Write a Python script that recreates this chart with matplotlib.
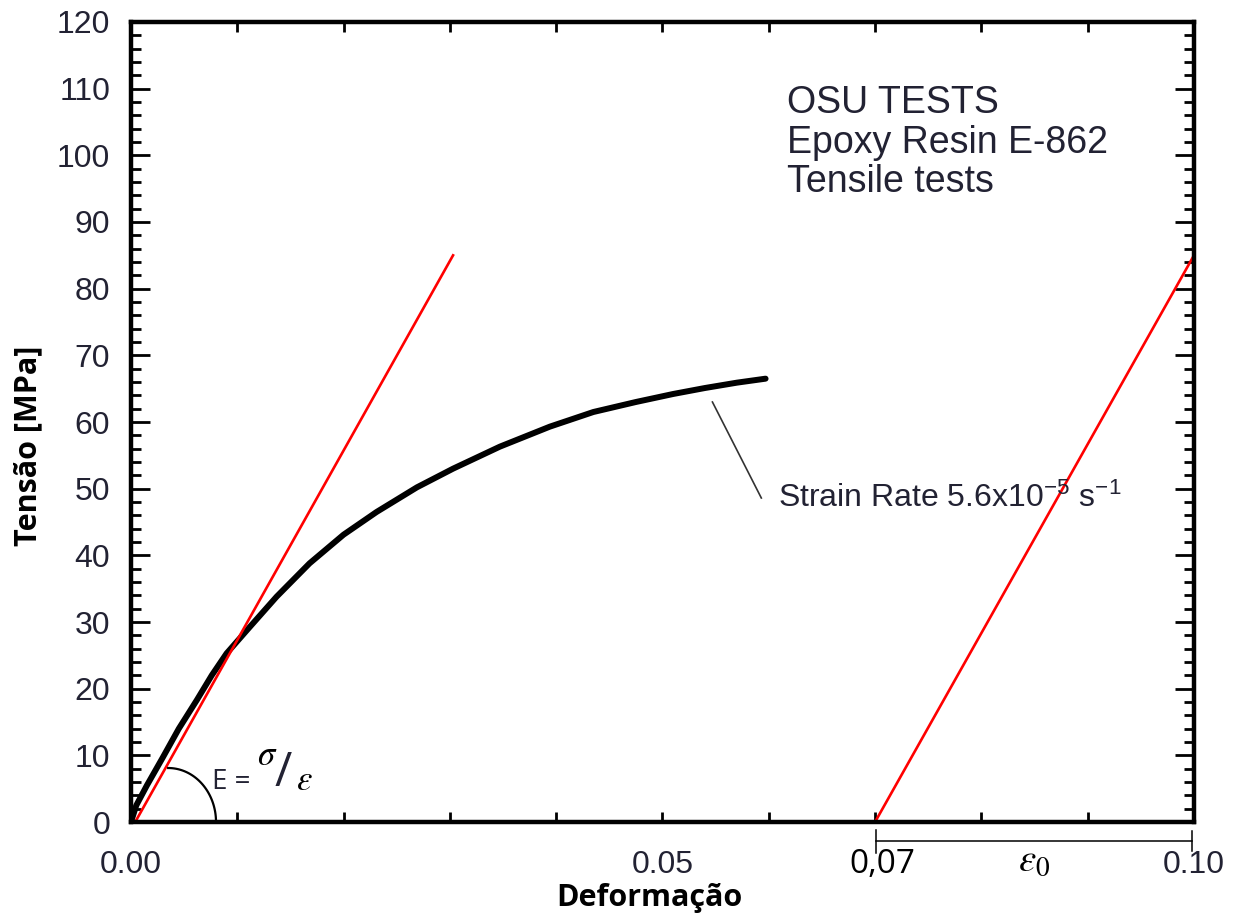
import numpy as np
import matplotlib
matplotlib.use("Agg")
import matplotlib.pyplot as plt
from matplotlib.ticker import FixedLocator, FixedFormatter, MultipleLocator

plt.rcParams['font.family'] = ['Liberation Sans', 'DejaVu Sans']
plt.rcParams['mathtext.fontset'] = 'custom'
plt.rcParams['mathtext.rm'] = 'Liberation Sans'
plt.rcParams['mathtext.it'] = 'Liberation Sans:italic'

# stress-strain curve
strain = [0.0, 0.0005, 0.0015, 0.0030, 0.0045, 0.0062, 0.0076, 0.0090, 0.0112,
          0.0137, 0.0168, 0.0200, 0.0231, 0.0269, 0.0303, 0.0347, 0.0394,
          0.0435, 0.0475, 0.0510, 0.0540, 0.0570, 0.0597]
stress = [0.0, 2.5, 5.5, 9.7, 14.0, 18.3, 22.0, 25.3, 29.3,
          33.8, 38.8, 43.1, 46.5, 50.2, 53.0, 56.3, 59.3,
          61.5, 63.0, 64.2, 65.1, 65.9, 66.5]

# elastic lines (red)
tangent_x = [0.0004, 0.0303]
tangent_y = [0.0, 85.0]
offset_x = [0.070, 0.100]
offset_y = [0.0, 85.0]

xticks = [0.00, 0.01, 0.02, 0.03, 0.04, 0.05, 0.06, 0.07, 0.08, 0.09, 0.10]
xticklabels = ['0.00', '', '', '', '', '0.05', '', '', '', '', '0.10']
yticks = list(range(0, 121, 10))

label_col = '#222233'

fig = plt.figure(figsize=(12.45, 9.16), dpi=100)
ax = fig.add_axes([0.1052, 0.1026, 0.8538, 0.8734])

ax.plot(strain, stress, color='black', lw=4.3, solid_capstyle='round',
        solid_joinstyle='round')
ax.plot(tangent_x, tangent_y, color='#ff0000', lw=1.9)
ax.plot(offset_x, offset_y, color='#ff0000', lw=1.9)

ax.set_xlim(0, 0.10)
ax.set_ylim(0, 120)

ax.xaxis.set_major_locator(FixedLocator(xticks))
ax.xaxis.set_major_formatter(FixedFormatter(xticklabels))
ax.set_yticks(yticks)
ax.yaxis.set_minor_locator(MultipleLocator(2))

ax.tick_params(axis='x', which='major', direction='in', length=7, width=2,
               top=True, pad=20, labelsize=23, labelcolor=label_col)
ax.tick_params(axis='y', which='major', direction='in', length=14, width=2,
               right=True, pad=15, labelsize=23, labelcolor=label_col)
ax.tick_params(axis='y', which='minor', direction='in', length=7.5, width=2,
               right=True)
for s in ax.spines.values():
    s.set_linewidth(3.2)

ax.set_ylabel('Tensão [MPa]', family='Open Sans', fontweight='bold',
              fontsize=22, va='center')
ax.yaxis.set_label_coords(-0.097, 0.47)
ax.set_xlabel('Deformação', family='Open Sans', fontweight='bold',
              fontsize=22, va='center')
ax.xaxis.set_label_coords(0.4875, -0.095)

ax.text(0.0617, 110.5, 'OSU TESTS\nEpoxy Resin E-862\nTensile tests',
        fontsize=27, color=label_col, va='top', ha='left', linespacing=1.12)

# leader + label for the curve
ax.plot([0.0547, 0.0593], [63.0, 48.6], color='#333333', lw=1.2)
ax.text(0.0609, 48.6, r'Strain Rate 5.6x10$^{\mathregular{-5}}$ s$^{\mathregular{-1}}$',
        fontsize=23, color=label_col, va='center', ha='left')

# modulus annotation: quarter arc from the red line down to the x axis
t = np.linspace(0, np.pi / 2, 60)
arc_cx, arc_rx, arc_ry = 0.0035, 0.0045, 8.1
ax.plot(arc_cx + arc_rx * np.cos(t), arc_ry * np.sin(t), color='black', lw=1.6)
ax.text(0.0076, 5.0, 'E =', family='Open Sans', fontsize=20,
        color='#222233', ha='left', va='baseline')
ax.text(0.0128, 10.0, r'$\sigma$', math_fontfamily='stix', fontsize=25,
        color='black', ha='center', va='center')
ax.text(0.0143, 7.3, '/', family='Open Sans', fontsize=34,
        color='#222233', ha='center', va='center')
ax.text(0.0163, 6.2, r'$\varepsilon$', math_fontfamily='stix', fontsize=25,
        color='black', ha='center', va='center')

# bracket under the axis for epsilon_0
yb = -2.85
ax.plot([0.0701, 0.0998], [yb, yb], color='black', lw=1.1, clip_on=False)
ax.plot([0.0701, 0.0701], [-1.2, -4.6], color='black', lw=1.1, clip_on=False)
ax.plot([0.0998, 0.0998], [-1.4, -4.3], color='black', lw=1.1, clip_on=False)
ax.text(0.0707, -6.3, '0,07', family='Open Sans', fontsize=24,
        color='black', ha='center', va='center')
ax.text(0.0850, -5.8, r'$\varepsilon_0$', math_fontfamily='stix', fontsize=28,
        color='black', ha='center', va='center')

fig.savefig('out.png', dpi=100)
